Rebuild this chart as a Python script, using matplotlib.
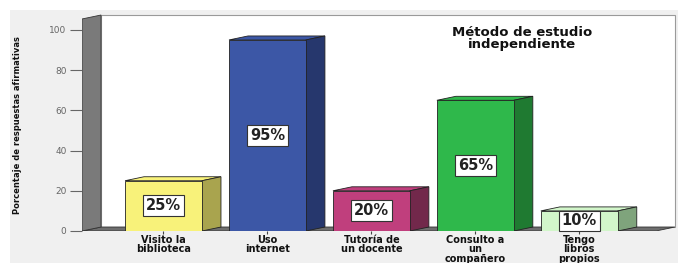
import matplotlib.pyplot as plt
from matplotlib.patches import Rectangle

# data
categories = ["Visito la\nbiblioteca", "Uso\ninternet", "Tutoría de\nun docente",
              "Consulto a\nun\ncompañero", "Tengo\nlibros\npropios"]
values = [25, 95, 20, 65, 10]
front_colors = ["#f8f27a", "#3c57a6", "#c03f7d", "#2fb84b", "#d2f6ca"]
side_colors = ["#a9a44e", "#26376d", "#72284b", "#1f7a31", "#7fa47c"]
yticks = [0, 20, 40, 60, 80, 100]
title = "Método de estudio\nindependiente"
ylabel = "Porcentaje de respuestas afirmativas"

# 3d look
width = 0.74
dx, dy = 0.183, 1.98
x_left, x_right = -0.784, 4.92
y_top = 107.4

fig = plt.figure(figsize=(6.78, 2.63), dpi=100)
fig.patches.append(Rectangle((10 / 678, 0), 1, 253 / 263, transform=fig.transFigure,
                             facecolor="#f0f0f0", edgecolor="none", zorder=-10))

ax = fig.add_axes([82 / 678, 32 / 263, 595 / 678, 217 / 263])
ax.set_facecolor("none")
ax.set_xlim(x_left, 4.94)
ax.set_ylim(0, 107.9)
for s in ax.spines.values():
    s.set_visible(False)

# back panel, floor and left wall
ax.fill([x_left + dx, x_right, x_right, x_left + dx],
        [dy, dy, y_top, y_top], facecolor="white", edgecolor="#9a9a9a", lw=0.8, zorder=1)
ax.fill([x_left, x_right - dx, x_right, x_left + dx],
        [0, 0, dy, dy], facecolor="#6e6e6e", edgecolor="#333333", lw=0.6, zorder=2)
ax.fill([x_left, x_left + dx, x_left + dx, x_left],
        [0, dy, y_top, y_top - dy], facecolor="#7a7a7a", edgecolor="#333333", lw=0.6, zorder=2)

# bars
for i, (v, fc, sc) in enumerate(zip(values, front_colors, side_colors)):
    x0, x1 = i - width / 2, i + width / 2
    ax.fill([x0, x1, x1 + dx, x0 + dx], [v, v, v + dy, v + dy],
            facecolor=fc, edgecolor="#222222", lw=0.6, zorder=3)
    ax.fill([x1, x1 + dx, x1 + dx, x1], [0, dy, v + dy, v],
            facecolor=sc, edgecolor="#222222", lw=0.6, zorder=3)
    ax.fill([x0, x1, x1, x0], [0, 0, v, v],
            facecolor=fc, edgecolor="#222222", lw=0.6, zorder=4)
    ax.text(i, v / 2, f"{v}%", ha="center", va="center", fontsize=10.5,
            fontweight="bold", color="#222222", zorder=5,
            bbox=dict(boxstyle="square,pad=0.2", facecolor="white",
                      edgecolor="#333333", lw=0.8))

ax.set_yticks(yticks)
ax.tick_params(axis="y", length=8.6, width=0.8, color="#666666", pad=2.5,
               labelsize=6.5, labelcolor="#666666")
ax.set_xticks(range(len(categories)))
ax.set_xticklabels(categories, fontsize=7, fontweight="bold", color="#111111")
ax.tick_params(axis="x", length=2.5, width=0.8, color="#444444", pad=0.5)
for lab in ax.get_xticklabels():
    lab.set_linespacing(0.9)

ax.text(0.74, 0.888, title, transform=ax.transAxes, ha="center", va="center",
        fontsize=9.5, fontweight="bold", linespacing=0.9, color="#111111")

ax.set_ylabel(ylabel, fontsize=6, fontweight="bold", color="#111111")
ax.yaxis.set_label_coords(-0.101, 0.486)

fig.savefig("out.png", dpi=100)
